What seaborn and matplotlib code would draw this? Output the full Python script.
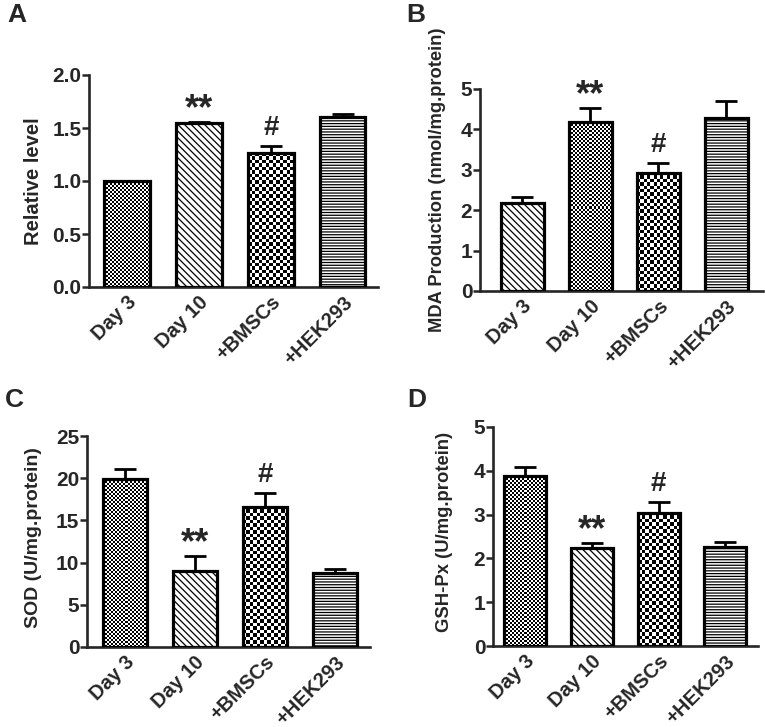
import numpy as np
import matplotlib
matplotlib.use('Agg')
import matplotlib.pyplot as plt
import seaborn as sns

# --- data ---
groups = ['Day 3', 'Day 10', '+BMSCs', '+HEK293']

rel_level = [1.00, 1.547, 1.264, 1.604]
rel_level_err = [0.0, 0.013, 0.063, 0.028]

mda = [2.17, 4.18, 2.93, 4.28]
mda_err = [0.15, 0.35, 0.24, 0.43]

sod = [19.9, 9.0, 16.6, 8.75]
sod_err = [1.2, 1.8, 1.6, 0.52]

gsh = [3.87, 2.23, 3.04, 2.26]
gsh_err = [0.22, 0.13, 0.25, 0.12]

# fill style per bar: fine checker, diagonal, coarse checker, horizontal
patterns_acd = ['fine', 'diag', 'coarse', 'horiz']
patterns_b = ['diag', 'fine', 'coarse', 'horiz']

# marks above bars
marks = ['', '**', '#', '']

sns.set_style('ticks')
plt.rcParams['font.family'] = ['Liberation Sans', 'DejaVu Sans']
plt.rcParams['font.weight'] = 'bold'
plt.rcParams['axes.labelweight'] = 'bold'
plt.rcParams['hatch.linewidth'] = 0.9
plt.rcParams['hatch.color'] = 'black'

W, H = 765, 727
fig = plt.figure(figsize=(W / 100, H / 100), dpi=100)


def px_axes(left, right, top, bottom):
    return fig.add_axes([left / W, (H - bottom) / H, (right - left) / W, (bottom - top) / H])


def checker(ax, patch, cell):
    x0, y0 = patch.get_x(), patch.get_y()
    w, h = patch.get_width(), patch.get_height()
    (p0x, p0y), (p1x, p1y) = ax.transData.transform([(x0, y0), (x0 + w, y0 + h)])
    nx = max(1, int(round((p1x - p0x) / cell)))
    ny = max(1, int(round((p1y - p0y) / cell)))
    grid = np.add.outer(np.arange(ny), np.arange(nx)) % 2
    ax.imshow(grid, cmap='gray', extent=(x0, x0 + w, y0, y0 + h),
              interpolation='nearest', aspect='auto', zorder=patch.get_zorder() - 0.1)


def panel(ax, letter, values, errs, pattern, ylim, yticks, ylabel, label_size,
          xlim, label_xy, fmt):
    sns.barplot(x=groups, y=values, ax=ax, color='white', edgecolor='black',
                linewidth=2.3, errorbar=None, width=0.63, zorder=3)
    ax.errorbar(np.arange(len(groups)), values, yerr=[np.zeros(len(errs)), errs],
                fmt='none', ecolor='black', elinewidth=2, capsize=8, capthick=2, zorder=2)
    ax.set_xlim(*xlim)
    ax.set_ylim(*ylim)
    ax.set_yticks(yticks)
    ax.set_yticklabels([fmt.format(t) for t in yticks])
    for p, style in zip(ax.patches, pattern):
        if style == 'diag':
            p.set_hatch('\\\\\\\\\\')
        elif style == 'horiz':
            p.set_hatch('------')
        elif style == 'fine':
            p.set_facecolor('none')
            checker(ax, p, 2.0)
        elif style == 'coarse':
            p.set_facecolor('none')
            checker(ax, p, 3.4)
    ax.set_xlim(*xlim)
    ax.set_ylim(*ylim)

    for i, m in enumerate(marks):
        if not m:
            continue
        top = values[i] + errs[i]
        if m == '**':
            ax.annotate(m, (i, top), xytext=(0, 2), textcoords='offset points',
                        ha='center', va='baseline', fontsize=26, fontweight='bold')
        else:
            ax.annotate(m, (i, top), xytext=(0, 8), textcoords='offset points',
                        ha='center', va='baseline', fontsize=20, fontweight='bold')

    sns.despine(ax=ax)
    for s in ['left', 'bottom']:
        ax.spines[s].set_linewidth(1.9)
    ax.tick_params(axis='y', length=5, width=1.8, labelsize=15, pad=0.5)
    ax.tick_params(axis='x', length=0, labelsize=14.5, pad=4)
    for lab in ax.get_xticklabels():
        lab.set_rotation(45)
        lab.set_ha('right')
        lab.set_rotation_mode('anchor')
        lab.set_fontweight('bold')
    for lab in ax.get_yticklabels():
        lab.set_fontweight('bold')
    ax.set_xlabel('')
    ax.set_ylabel(ylabel, fontsize=label_size, fontweight='bold')
    ax.yaxis.set_label_coords(*label_xy)
    ax.text(label_pos[letter][0] / W, 1 - label_pos[letter][1] / H, letter,
            transform=fig.transFigure, fontsize=19, fontweight='bold', va='top', ha='left')


label_pos = {'A': (7, 3), 'B': (406, 3), 'C': (5, 388), 'D': (407, 388)}

axA = px_axes(89, 378, 75, 287)
panel(axA, 'A', rel_level, rel_level_err, patterns_acd, (0, 2.0), np.arange(0, 2.01, 0.5),
      'Relative level', 14.5, (-0.53, 3.49), (-0.16, 0.5), '{:.1f}')

axB = px_axes(480, 763, 89, 291)
panel(axB, 'B', mda, mda_err, patterns_b, (0, 5), np.arange(0, 6, 1),
      'MDA Production (nmol/mg.protein)', 13.2, (-0.62, 3.54), (-0.12, 0.55), '{:.0f}')

axC = px_axes(87, 370, 436, 647)
panel(axC, 'C', sod, sod_err, patterns_acd, (0, 25), np.arange(0, 26, 5),
      'SOD (U/mg.protein)', 14, (-0.54, 3.5), (-0.159, 0.52), '{:.0f}')

axD = px_axes(493, 758, 427, 646)
panel(axD, 'D', gsh, gsh_err, patterns_acd, (0, 5), np.arange(0, 6, 1),
      'GSH-Px (U/mg.protein)', 13.3, (-0.48, 3.49), (-0.151, 0.52), '{:.0f}')

fig.savefig('out.png', dpi=100)
